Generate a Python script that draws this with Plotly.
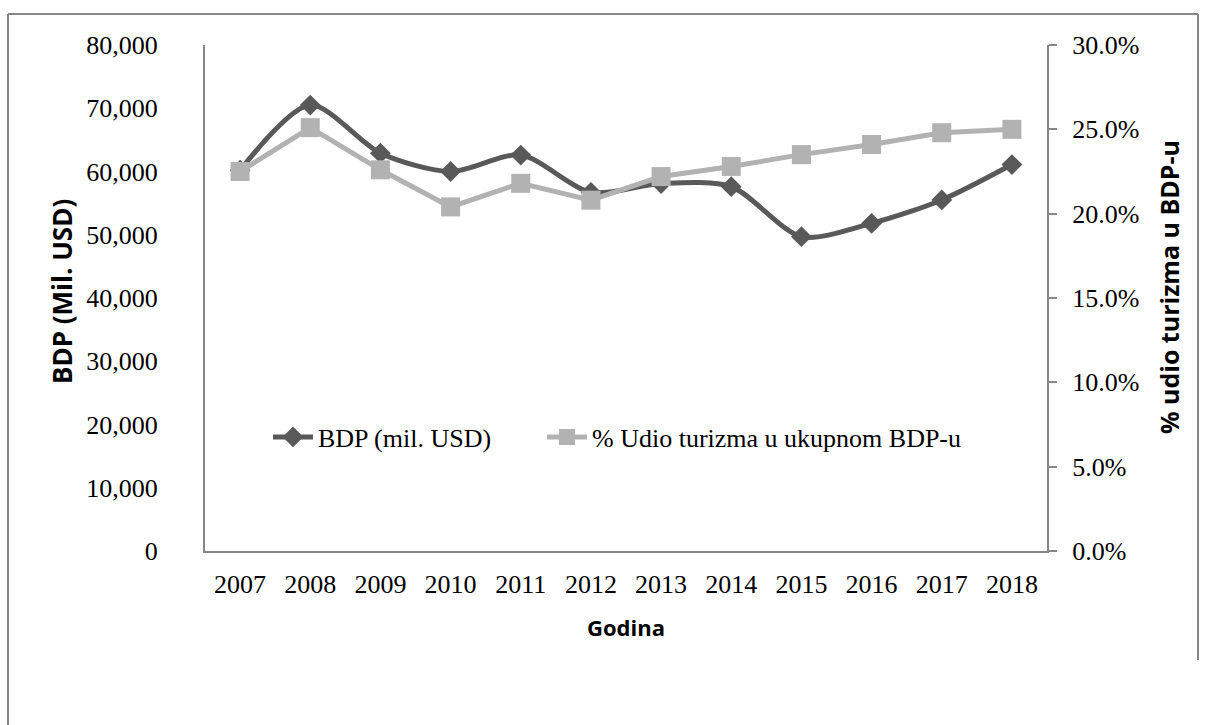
import plotly.graph_objects as go

years = ["2007", "2008", "2009", "2010", "2011", "2012", "2013", "2014", "2015", "2016", "2017", "2018"]
bdp = [60200, 70500, 62900, 60000, 62600, 56700, 58100, 57600, 49700, 51800, 55500, 61100]
udio = [0.225, 0.251, 0.226, 0.204, 0.218, 0.208, 0.222, 0.228, 0.235, 0.241, 0.248, 0.250]

name_bdp = "BDP (mil. USD)"
name_udio = "% Udio turizma u ukupnom BDP-u"

dark = "#595959"
light = "#B2B2B2"
axis_col = "#868686"
serif = "Liberation Serif, Times New Roman, serif"
sans = "Open Sans, sans-serif"
fs = 26

fig = go.Figure()
fig.add_trace(go.Scatter(
    x=years, y=bdp, name=name_bdp, mode="lines+markers", legend="legend",
    line=dict(color=dark, width=5, shape="spline", smoothing=0.8),
    marker=dict(symbol="diamond", size=16, color=dark),
))
fig.add_trace(go.Scatter(
    x=years, y=udio, name=name_udio, mode="lines+markers", yaxis="y2", legend="legend2",
    line=dict(color=light, width=5),
    marker=dict(symbol="square", size=19, color=light),
))

L, R, T, B = 205, 1206 - 1047, 45, 725 - 551
W = 1206 - L - R
H = 725 - T - B

def px_x(p):
    return (p - L) / W

def px_y(p):
    return (725 - B - p) / H

leg_common = dict(
    orientation="h", yanchor="middle", xanchor="left",
    font=dict(family=serif, size=fs, color="black"),
    bgcolor="rgba(0,0,0,0)", itemwidth=40,
)

fig.update_layout(
    width=1206, height=725,
    margin=dict(l=L, r=R, t=T, b=B, pad=0),
    paper_bgcolor="white", plot_bgcolor="white",
    showlegend=True,
    legend=dict(x=px_x(268), y=px_y(437), **leg_common),
    legend2=dict(x=px_x(542), y=px_y(437), **leg_common),
    xaxis=dict(
        type="category", range=[-0.5, len(years) - 0.5],
        showgrid=False, zeroline=False,
        showline=True, linecolor=axis_col, linewidth=2,
        ticks="", tickfont=dict(family=serif, size=fs, color="black"),
        ticklabelstandoff=9,
    ),
    yaxis=dict(
        range=[0, 80000], dtick=10000, tickformat=",",
        showgrid=False, zeroline=False,
        showline=True, linecolor=axis_col, linewidth=2,
        ticks="", tickfont=dict(family=serif, size=fs, color="black"),
        ticklabelstandoff=40,
    ),
    yaxis2=dict(
        range=[0, 0.30], dtick=0.05, tickformat=".1%",
        overlaying="y", side="right",
        showgrid=False, zeroline=False,
        showline=True, linecolor=axis_col, linewidth=2,
        ticks="outside", ticklen=8, tickwidth=2, tickcolor=axis_col,
        tickfont=dict(family=serif, size=fs, color="black"),
        ticklabelstandoff=10,
    ),
    annotations=[
        dict(text="<b>BDP (Mil. USD)</b>", xref="paper", yref="paper",
             x=px_x(62), y=px_y(292), xanchor="center", yanchor="middle",
             textangle=-90, showarrow=False,
             font=dict(family=sans, size=26, color="black")),
        dict(text="<b>% udio turizma u BDP-u</b>", xref="paper", yref="paper",
             x=px_x(1169), y=px_y(287), xanchor="center", yanchor="middle",
             textangle=-90, showarrow=False,
             font=dict(family=sans, size=25, color="black")),
        dict(text="<b>Godina</b>", xref="paper", yref="paper",
             x=px_x(626), y=px_y(627), xanchor="center", yanchor="middle",
             showarrow=False,
             font=dict(family=sans, size=22, color="black")),
    ],
    shapes=[
        dict(type="line", xref="paper", yref="paper", x0=px_x(8), x1=px_x(1198), y0=px_y(14), y1=px_y(14),
             line=dict(color=axis_col, width=2)),
        dict(type="line", xref="paper", yref="paper", x0=px_x(8), x1=px_x(8), y0=px_y(14), y1=px_y(740),
             line=dict(color=axis_col, width=2)),
        dict(type="line", xref="paper", yref="paper", x0=px_x(1198), x1=px_x(1198), y0=px_y(14), y1=px_y(660),
             line=dict(color=axis_col, width=2)),
    ],
)

fig.write_html("out.html", config={"displayModeBar": False},
               post_script="document.body.style.margin='0';")
